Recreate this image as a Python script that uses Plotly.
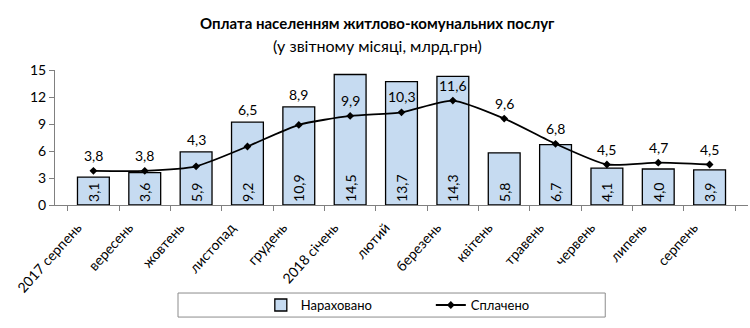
import plotly.graph_objects as go

months = ["2017 серпень", "вересень", "жовтень", "листопад", "грудень", "2018 січень",
          "лютий", "березень", "квітень", "травень", "червень", "липень", "серпень"]
accrued = [3.1, 3.6, 5.9, 9.2, 10.9, 14.5, 13.7, 14.3, 5.8, 6.7, 4.1, 4.0, 3.9]
paid = [3.8, 3.8, 4.3, 6.5, 8.9, 9.9, 10.3, 11.6, 9.6, 6.8, 4.5, 4.7, 4.5]
y_ticks = [0, 3, 6, 9, 12, 15]
# where each "paid" label sits: above the line point or above the bar top
label_anchor = ["point", "point", "bar", "bar", "bar", "point", "point",
                "point", "point", "point", "point", "point", "point"]

def fmt(v):
    return f"{v:.1f}".replace(".", ",")

FONT = "Lato, 'Open Sans', sans-serif"

fig = go.Figure()
fig.add_trace(go.Bar(
    x=months, y=accrued, name="Нараховано",
    marker=dict(color="#C6DBF1", line=dict(color="black", width=1.3)),
    width=0.62,
    text=[fmt(v) for v in accrued], textposition="inside", insidetextanchor="start",
    textangle=-90, textfont=dict(size=14, color="black", family=FONT),
    cliponaxis=False,
))
fig.add_trace(go.Scatter(
    x=months, y=paid, name="Сплачено", mode="lines+markers",
    line=dict(color="black", width=1.8, shape="spline", smoothing=0.6),
    marker=dict(symbol="diamond", size=6, color="black"),
    cliponaxis=False,
))

annotations = []
for m, a, p, anc in zip(months, accrued, paid, label_anchor):
    if anc == "bar":
        annotations.append(dict(x=m, y=a, text=fmt(p), showarrow=False,
                                yanchor="bottom", yshift=2,
                                font=dict(size=14, family=FONT, color="black")))
    else:
        annotations.append(dict(x=m, y=p, text=fmt(p), showarrow=False,
                                yanchor="bottom", yshift=5,
                                font=dict(size=14, family=FONT, color="black")))

annotations += [
    dict(text="<b>Оплата населенням житлово-комунальних послуг</b>",
         xref="paper", yref="paper", x=0.465, y=1.348, xanchor="center", yanchor="middle",
         showarrow=False, font=dict(size=15, family=FONT, color="black")),
    dict(text="(у звітному місяці, млрд.грн)",
         xref="paper", yref="paper", x=0.465, y=1.185, xanchor="center", yanchor="middle",
         showarrow=False, font=dict(size=16, family=FONT, color="black")),
]

fig.update_layout(
    width=750, height=328,
    margin=dict(l=55, r=2, t=70, b=123, autoexpand=False),
    paper_bgcolor="white", plot_bgcolor="white",
    font=dict(family=FONT, color="black", size=13),
    showlegend=True,
    legend=dict(
        orientation="h", x=0.297, xanchor="left", y=-0.741, yanchor="middle",
        borderwidth=0, bgcolor="rgba(0,0,0,0)",
        font=dict(size=13, family=FONT), entrywidth=125, itemwidth=30,
    ),
    annotations=annotations,
    shapes=[
        dict(type="rect", xref="paper", yref="paper",
             x0=0.1775, x1=0.794, y0=-0.830, y1=-0.652,
             line=dict(color="#8c8c8c", width=1), fillcolor="rgba(0,0,0,0)", layer="below"),
    ],
)
fig.update_xaxes(
    showline=True, linecolor="#808080", linewidth=1,
    ticks="outside", tickson="boundaries", ticklen=5, tickcolor="#808080",
    tickangle=-48, tickfont=dict(size=14, family=FONT),
    ticklabelstandoff=8, ticklabelshift=-16, automargin=False,
    showgrid=False,
)
fig.update_yaxes(
    range=[0, 15], tickvals=y_ticks, ticktext=[str(v) for v in y_ticks],
    showline=True, linecolor="#808080", linewidth=1,
    ticks="outside", ticklen=5, tickcolor="#808080",
    tickfont=dict(size=14, family=FONT), showgrid=False, zeroline=False,
    automargin=False,
)

fig.write_html("out.html")
